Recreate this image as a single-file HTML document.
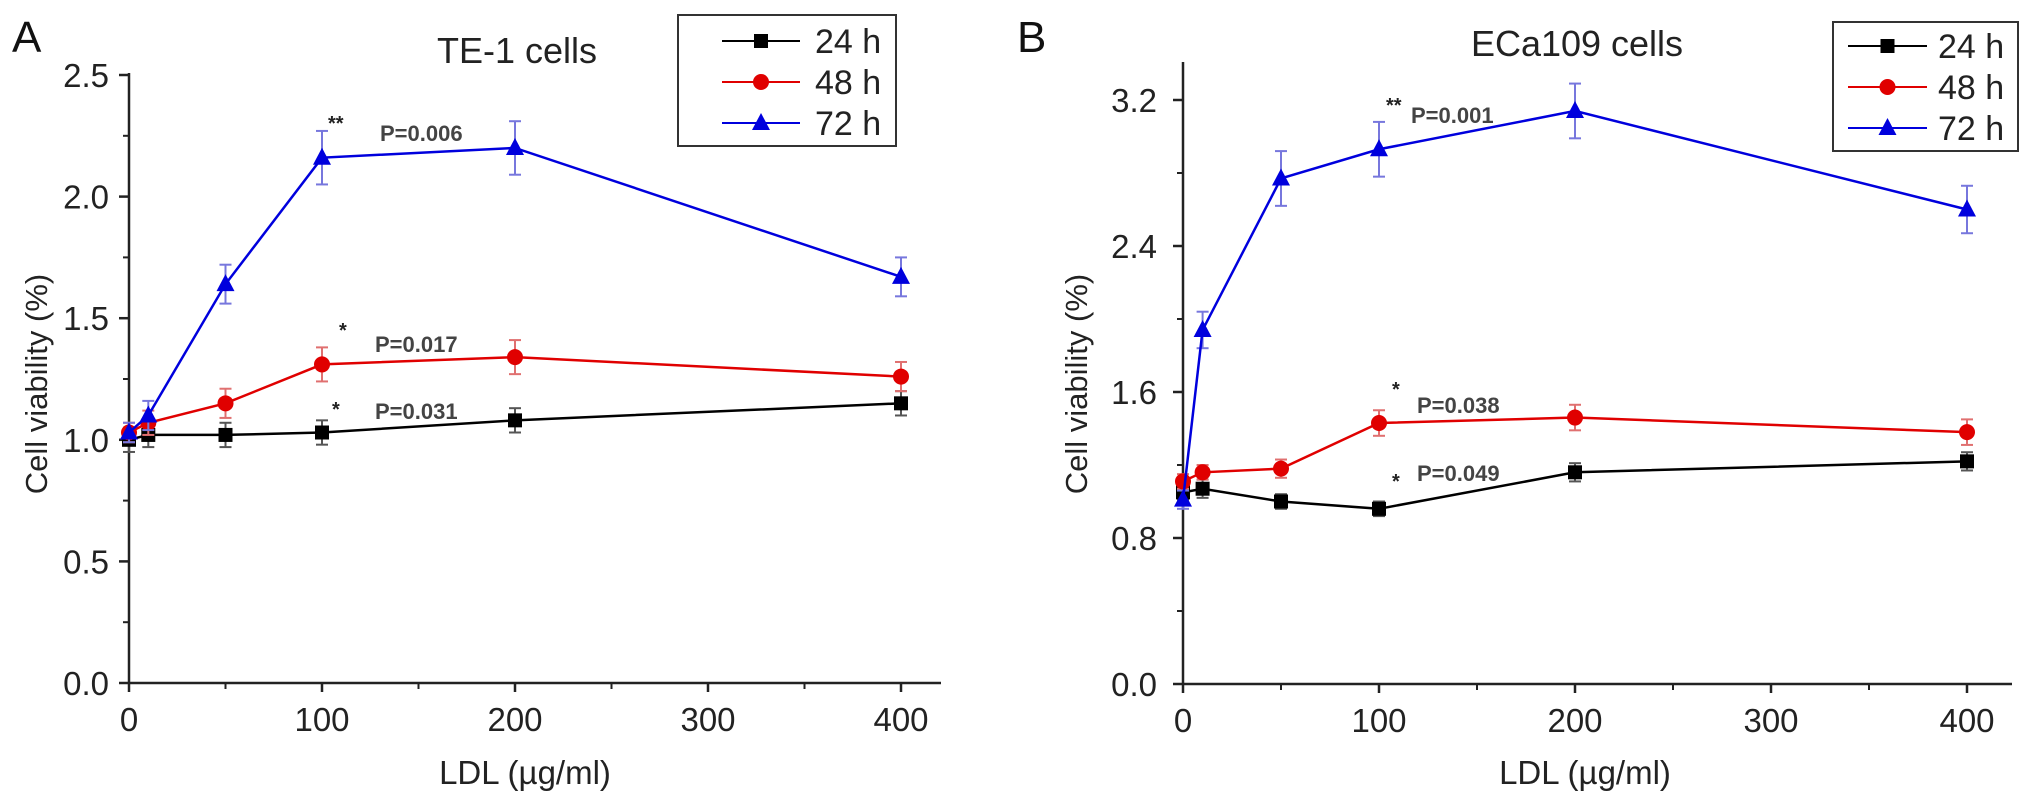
<!DOCTYPE html>
<html><head><meta charset="utf-8">
<style>
html,body{margin:0;padding:0;background:#fff;}
svg{display:block;font-family:"Liberation Sans",Arial,sans-serif;}
</style></head>
<body>
<svg id="fig" width="2031" height="802" viewBox="0 0 2031 802" xmlns="http://www.w3.org/2000/svg"></svg>
<script>
const xValues = [0, 10, 50, 100, 200, 400];
const xTicks = [0, 100, 200, 300, 400];
const seriesNames = ['24 h', '48 h', '72 h'];
const seriesColors = ['#000000', '#e00000', '#0000dd'];
const errColors = ['#555555', '#e07070', '#7777dd'];
// Panel A
const aTicks = [0.0, 0.5, 1.0, 1.5, 2.0, 2.5];
const aTickLabels = ['0.0', '0.5', '1.0', '1.5', '2.0', '2.5'];
const a24 = [1.00, 1.02, 1.02, 1.03, 1.08, 1.15];
const a48 = [1.03, 1.07, 1.15, 1.31, 1.34, 1.26];
const a72 = [1.03, 1.10, 1.64, 2.16, 2.20, 1.67];
const a24err = [0.05, 0.05, 0.05, 0.05, 0.05, 0.05];
const a48err = [0.04, 0.05, 0.06, 0.07, 0.07, 0.06];
const a72err = [0.04, 0.06, 0.08, 0.11, 0.11, 0.08];
// Panel B
const bTicks = [0.0, 0.8, 1.6, 2.4, 3.2];
const bTickLabels = ['0.0', '0.8', '1.6', '2.4', '3.2'];
const b24 = [1.05, 1.07, 1.00, 0.96, 1.16, 1.22];
const b48 = [1.11, 1.16, 1.18, 1.43, 1.46, 1.38];
const b72 = [1.01, 1.94, 2.77, 2.93, 3.14, 2.60];
const b24err = [0.04, 0.05, 0.04, 0.04, 0.05, 0.05];
const b48err = [0.04, 0.04, 0.05, 0.07, 0.07, 0.07];
const b72err = [0.05, 0.10, 0.15, 0.15, 0.15, 0.13];

const NS = 'http://www.w3.org/2000/svg';
const svg = document.getElementById('fig');
function mk(tag, attrs, parent, text) {
  const e = document.createElementNS(NS, tag);
  for (const k in attrs) e.setAttribute(k, attrs[k]);
  if (text !== undefined) e.textContent = text;
  (parent || svg).appendChild(e);
  return e;
}
function marker(g, kind, x, y, color) {
  let m;
  if (kind === 0) m = mk('rect', {x: x - 7, y: y - 7, width: 14, height: 14, fill: color}, g);
  else if (kind === 1) m = mk('circle', {cx: x, cy: y, r: 8, fill: color}, g);
  else m = mk('polygon', {points: `${x},${y - 10} ${x - 9},${y + 7} ${x + 9},${y + 7}`, fill: color}, g);
  return m;
}

function panel(p) {
  const g = mk('g', {});
  
  
  const X = v => p.x0 + (v / 400) * (p.x400 - p.x0);
  const Y = v => p.y0 - (v / p.ymaxTick) * (p.y0 - p.yTop);
  const ax = mk('line', {x1: p.x0, y1: p.y0, x2: p.xEnd, y2: p.y0, stroke: '#222', 'stroke-width': 2.5}, g);
  
  
  const ay = mk('line', {x1: p.x0, y1: p.y0, x2: p.x0, y2: p.yAxisTop, stroke: '#222', 'stroke-width': 2.5}, g);
  
  
  xTicks.forEach(t => {
    mk('line', {x1: X(t), y1: p.y0, x2: X(t), y2: p.y0 + 9, stroke: '#222', 'stroke-width': 2.5}, g);
    const tl = mk('text', {x: X(t), y: p.y0 + 48, 'font-size': 33, 'text-anchor': 'middle', fill: '#222'}, g, String(t));
    
    
    if (t < 400) mk('line', {x1: X(t + 50), y1: p.y0, x2: X(t + 50), y2: p.y0 + 6, stroke: '#222', 'stroke-width': 2}, g);
  });
  p.ticks.forEach((t, i) => {
    mk('line', {x1: p.x0 - 10, y1: Y(t), x2: p.x0, y2: Y(t), stroke: '#222', 'stroke-width': 2.5}, g);
    const tl = mk('text', {x: p.x0 - p.tickGap, y: Y(t) + 12, 'font-size': 33, 'text-anchor': 'end', fill: '#222'}, g, p.labels[i]);
    
    
    if (i < p.ticks.length - 1) {
      const m = (t + p.ticks[i + 1]) / 2;
      mk('line', {x1: p.x0 - 6, y1: Y(m), x2: p.x0, y2: Y(m), stroke: '#222', 'stroke-width': 2}, g);
    }
  });
  const xt = mk('text', {x: (p.x0 + p.x400) / 2 + 10, y: 784, 'font-size': 33, 'text-anchor': 'middle', fill: '#222'}, g, 'LDL (\u00b5g/ml)');
  
  
  const yt = mk('text', {x: 0, y: 0, 'font-size': 31, 'text-anchor': 'middle', fill: '#222', transform: `translate(${p.x0 - p.ytOff},${p.ytCenter}) rotate(-90)`}, g, 'Cell viability (%)');
  
  
  const tt = mk('text', {x: p.titleX, y: p.titleY, 'font-size': 36, 'text-anchor': 'middle', fill: '#222'}, g, p.title);
  
  
  const pl = mk('text', {x: p.letterX, y: 52, 'font-size': 44, fill: '#111'}, g, p.letter);
  
  
  p.series.forEach((s, si) => {
    const sg = mk('g', {}, g);
    
    
    s.vals.forEach((v, i) => {
      const x = X(xValues[i]), e = s.err[i];
      mk('line', {x1: x, y1: Y(v - e), x2: x, y2: Y(v + e), stroke: errColors[si], 'stroke-width': 2}, sg);
      mk('line', {x1: x - 6, y1: Y(v - e), x2: x + 6, y2: Y(v - e), stroke: errColors[si], 'stroke-width': 2}, sg);
      mk('line', {x1: x - 6, y1: Y(v + e), x2: x + 6, y2: Y(v + e), stroke: errColors[si], 'stroke-width': 2}, sg);
    });
    const pts = s.vals.map((v, i) => `${X(xValues[i])},${Y(v)}`).join(' ');
    const ln = mk('polyline', {points: pts, fill: 'none', stroke: seriesColors[si], 'stroke-width': 2.5}, sg);
    
    
    s.vals.forEach((v, i) => {
      const m = marker(sg, si, X(xValues[i]), Y(v), seriesColors[si]);
      
      
    });
  });
  p.notes.forEach(n => {
    const st = mk('text', {x: n.sx, y: n.sy, 'font-size': 20, 'font-weight': 'bold', fill: '#222'}, g, n.star);
    
    
    const pt = mk('text', {x: n.px, y: n.py, 'font-size': 22, 'font-weight': 'bold', fill: '#444'}, g, n.p);
    
    
  });
  const L = p.legend;
  const lg = mk('g', {}, g);
  
  
  mk('rect', {x: L.x, y: L.y, width: L.w, height: L.h, fill: '#fff', stroke: '#333', 'stroke-width': 2}, lg);
  seriesNames.forEach((nm, i) => {
    const ry = L.rows[i];
    const eg = mk('g', {}, lg);
    
    
    mk('line', {x1: L.lx1, y1: ry, x2: L.lx2, y2: ry, stroke: seriesColors[i], 'stroke-width': 2}, eg);
    marker(eg, i, (L.lx1 + L.lx2) / 2, ry, seriesColors[i]);
    mk('text', {x: L.tx, y: ry + 12, 'font-size': 34, fill: '#222'}, eg, nm);
  });
}

panel({
  name: 'panel-a-te1', letter: 'A', letterX: 12, title: 'TE-1 cells', titleX: 517, titleY: 63,
  x0: 129, x400: 901, xEnd: 941, y0: 683, yTop: 75, yAxisTop: 73, ymaxTick: 2.5, ytCenter: 384, ytOff: 82, tickGap: 20,
  ticks: aTicks, labels: aTickLabels,
  series: [{vals: a24, err: a24err}, {vals: a48, err: a48err}, {vals: a72, err: a72err}],
  notes: [
    {star: '**', sx: 328, sy: 130, p: 'P=0.006', px: 380, py: 141},
    {star: '*', sx: 339, sy: 337, p: 'P=0.017', px: 375, py: 352},
    {star: '*', sx: 332, sy: 416, p: 'P=0.031', px: 375, py: 419}
  ],
  legend: {x: 678, y: 15, w: 218, h: 131, rows: [41, 82, 123], lx1: 722, lx2: 800, tx: 815}
});
panel({
  name: 'panel-b-eca109', letter: 'B', letterX: 1017, title: 'ECa109 cells', titleX: 1577, titleY: 56,
  x0: 1183, x400: 1967, xEnd: 2012, y0: 684, yTop: 100, yAxisTop: 62, ymaxTick: 3.2, ytCenter: 384, ytOff: 96, tickGap: 26,
  ticks: bTicks, labels: bTickLabels,
  series: [{vals: b24, err: b24err}, {vals: b48, err: b48err}, {vals: b72, err: b72err}],
  notes: [
    {star: '**', sx: 1386, sy: 112, p: 'P=0.001', px: 1411, py: 123},
    {star: '*', sx: 1392, sy: 396, p: 'P=0.038', px: 1417, py: 413},
    {star: '*', sx: 1392, sy: 488, p: 'P=0.049', px: 1417, py: 481}
  ],
  legend: {x: 1833, y: 22, w: 185, h: 129, rows: [46, 87, 128], lx1: 1848, lx2: 1927, tx: 1938}
});
</script>
</body></html>
